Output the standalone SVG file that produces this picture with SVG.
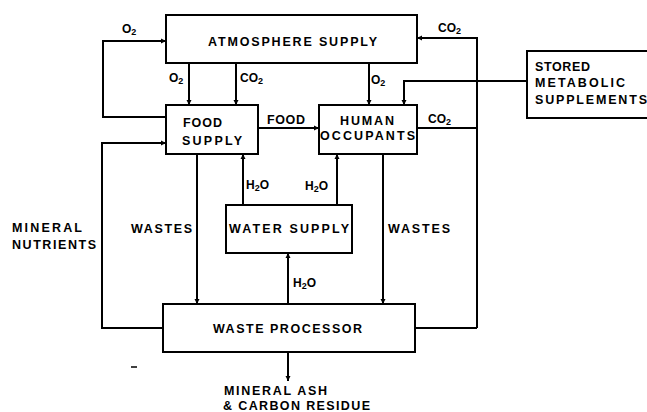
<svg xmlns="http://www.w3.org/2000/svg" width="647" height="412" viewBox="0 0 647 412">
<defs>
<marker id="ah" markerUnits="userSpaceOnUse" markerWidth="6" markerHeight="6" refX="5" refY="3" orient="auto">
<path d="M0,0.5 L5,3 L0,5.5 z" fill="#000"/>
</marker>
</defs>
<style>
.box{fill:#fff;stroke:#000;stroke-width:2}
.ln{fill:none;stroke:#000;stroke-width:2}
.ar{marker-end:url(#ah)}
text{font-family:"Liberation Sans",Arial,sans-serif;font-weight:bold;font-size:12.5px;fill:#000}
.sm{font-size:12px}
.sub{font-size:9px}
</style>
<rect width="647" height="412" fill="#fff"/>
<g id="connectors">
<path class="ln ar" d="M166,117 H103 V41 H166"/>
<path class="ln ar" d="M189,63 V105"/>
<path class="ln ar" d="M236,63 V105"/>
<path class="ln ar" d="M369,63 V105"/>
<path class="ln ar" d="M258,128 H319"/>
<path class="ln" d="M417,128 H477"/>
<path class="ln ar" d="M477,328 V38 H417"/>
<path class="ln" d="M415,328 H477"/>
<path class="ln ar" d="M527,81 H404 V105"/>
<path class="ln ar" d="M163,328 H102 V143 H166"/>
<path class="ln ar" d="M197,154 V304"/>
<path class="ln ar" d="M383,154 V304"/>
<path class="ln ar" d="M243,205 V154"/>
<path class="ln ar" d="M337,205 V154"/>
<path class="ln ar" d="M288,304 V253"/>
<path class="ln ar" d="M288,352 V381"/>
<line x1="131" y1="367" x2="137" y2="367" stroke="#000" stroke-width="1.5"/>
</g>
<g id="atmosphere">
<rect class="box" x="166" y="15" width="251" height="48"/>
<text x="208" y="46" textLength="169" lengthAdjust="spacing">ATMOSPHERE SUPPLY</text>
</g>
<g id="food">
<rect class="box" x="166" y="105" width="92" height="49"/>
<text x="183" y="127" textLength="39" lengthAdjust="spacing">FOOD</text>
<text x="182" y="145" textLength="60" lengthAdjust="spacing">SUPPLY</text>
</g>
<g id="human">
<rect class="box" x="319" y="105" width="98" height="49"/>
<text x="340" y="125" textLength="54" lengthAdjust="spacing">HUMAN</text>
<text x="320" y="140" textLength="95" lengthAdjust="spacing">OCCUPANTS</text>
</g>
<g id="stored">
<rect class="box" x="527" y="51" width="125" height="67"/>
<text x="535" y="71" textLength="55" lengthAdjust="spacing">STORED</text>
<text x="535" y="87" textLength="90" lengthAdjust="spacing">METABOLIC</text>
<text x="535" y="104" textLength="112" lengthAdjust="spacing">SUPPLEMENTS</text>
</g>
<g id="water">
<rect class="box" x="226" y="205" width="126" height="48"/>
<text x="229" y="233" textLength="120" lengthAdjust="spacing">WATER SUPPLY</text>
</g>
<g id="waste">
<rect class="box" x="163" y="304" width="252" height="48"/>
<text x="213" y="333" textLength="149" lengthAdjust="spacing">WASTE PROCESSOR</text>
</g>
<g id="labels">
<text class="sm" x="122" y="33">O<tspan class="sub" dy="2">2</tspan></text>
<text class="sm" x="169" y="82">O<tspan class="sub" dy="2">2</tspan></text>
<text class="sm" x="240" y="82">CO<tspan class="sub" dy="2">2</tspan></text>
<text class="sm" x="371" y="84">O<tspan class="sub" dy="2">2</tspan></text>
<text class="sm" x="438" y="32">CO<tspan class="sub" dy="2">2</tspan></text>
<text class="sm" x="428" y="123">CO<tspan class="sub" dy="2">2</tspan></text>
<text x="267" y="124" textLength="38" lengthAdjust="spacing">FOOD</text>
<text x="12" y="232" textLength="70" lengthAdjust="spacing">MINERAL</text>
<text x="12" y="249" textLength="84" lengthAdjust="spacing">NUTRIENTS</text>
<text x="131" y="233" textLength="61" lengthAdjust="spacing">WASTES</text>
<text x="388" y="233" textLength="62" lengthAdjust="spacing">WASTES</text>
<text class="sm" x="246" y="189">H<tspan class="sub" dy="2">2</tspan><tspan dy="-2">O</tspan></text>
<text class="sm" x="305" y="190">H<tspan class="sub" dy="2">2</tspan><tspan dy="-2">O</tspan></text>
<text class="sm" x="293" y="287">H<tspan class="sub" dy="2">2</tspan><tspan dy="-2">O</tspan></text>
<text x="224" y="395" textLength="103" lengthAdjust="spacing">MINERAL ASH</text>
<text x="223" y="410" textLength="147" lengthAdjust="spacing">&amp; CARBON RESIDUE</text>
</g>
</svg>
